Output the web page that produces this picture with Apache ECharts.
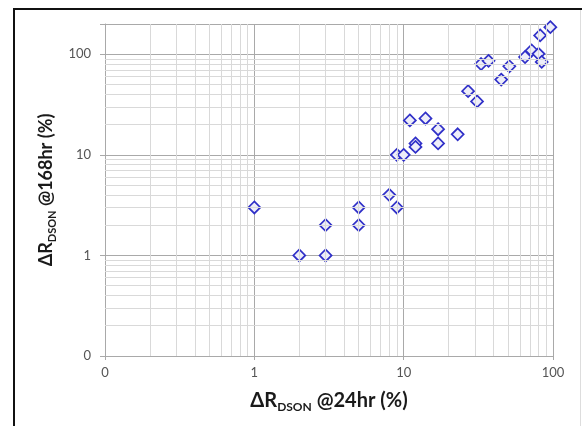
<!DOCTYPE html>
<html><head><meta charset="utf-8">
<script src="https://cdn.jsdelivr.net/npm/echarts@6/dist/echarts.min.js"></script>
<style>html,body{margin:0;padding:0;background:#fff}#c{width:582px;height:426px}</style>
</head><body><div id="c"></div>
<script>
// ---- data ----
const xValues24hr  = [1, 2, 3, 3, 5, 5, 8, 9, 9, 10, 11, 12, 12, 14, 17, 17, 23, 27, 31, 33, 37, 45, 51, 65, 72, 80, 84, 82, 96];
const yValues168hr = [3, 1, 2, 1, 3, 2, 4, 3, 10, 10, 22, 13, 12, 23, 18, 13, 16, 43, 34, 80, 86, 56, 76, 94, 109, 101, 84, 154, 186];
const xTickLabels = ['0', '1', '10', '100'];
const yTickLabels = ['0', '1', '10', '100'];

const points = xValues24hr.map((x, i) => [x, yValues168hr[i]]);

function decadeLabel(labels) {
  return function (v) {
    const e = Math.log10(v);
    const r = Math.round(e);
    if (Math.abs(e - r) > 1e-6) return '';
    return labels[r + 1] || '';
  };
}
function minorValues(decades, maxV) {
  const out = [];
  decades.forEach(d => { for (let k = 2; k <= 9; k++) { const v = +(d * k).toPrecision(6); if (v < maxV) out.push(v); } });
  return out;
}
const xMinor = minorValues([0.1, 1, 10], 100);
const yMinor = minorValues([0.1, 1, 10], 200);

const FONT = 'Lato, "Open Sans", "DejaVu Sans", sans-serif';
const MAJOR = '#a9a9a9', MINOR = '#d9d9d9';
const labelStyle = { fontFamily: FONT, fontSize: 13, color: '#555' };
function richFor(size, sub) {
  return {
    a: { fontFamily: FONT, fontSize: size, fontWeight: 'bold', color: '#1a1a1a', lineHeight: size + 4 },
    s: { fontFamily: FONT, fontSize: sub, fontWeight: 'bold', color: '#1a1a1a', lineHeight: sub, verticalAlign: 'bottom' }
  };
}

const chart = echarts.init(document.getElementById('c'), null, { renderer: 'canvas' });
chart.setOption({
  animation: false,
  backgroundColor: '#fff',
  grid: { left: 105, right: 29, top: 24, bottom: 70, containLabel: false, outerBoundsMode: 'none' },
  xAxis: {
    type: 'log', logBase: 10, min: 0.1, max: 100,
    axisLine: { show: true, lineStyle: { color: MAJOR, width: 1 } },
    axisTick: { show: true, length: 4, lineStyle: { color: MAJOR } },
    axisLabel: Object.assign({ margin: 10, formatter: decadeLabel(xTickLabels) }, labelStyle),
    splitLine: { show: true, lineStyle: { color: MAJOR, width: 1 } },
    name: '{a|ΔR}{s|DSON}{a| @24hr (%)}',
    nameLocation: 'middle', nameGap: 33,
    nameTextStyle: { rich: richFor(20, 12) }
  },
  yAxis: {
    type: 'log', logBase: 10, min: 0.1, max: 200,
    axisLine: { show: true, lineStyle: { color: MAJOR, width: 1 } },
    axisTick: { show: true, length: 5, lineStyle: { color: MAJOR } },
    axisLabel: Object.assign({ margin: 14, formatter: decadeLabel(yTickLabels) }, labelStyle),
    splitLine: { show: true, lineStyle: { color: MAJOR, width: 1 } },
    name: '{a|ΔR}{s|DSON}{a| @168hr (%)}',
    nameLocation: 'middle', nameGap: 43, nameRotate: 90,
    nameTextStyle: { rich: richFor(18, 11) }
  },
  series: [
    {
      type: 'scatter', data: [], z: 1, silent: true,
      markLine: {
        silent: true, animation: false, symbol: ['none', 'none'],
        label: { show: false },
        lineStyle: { color: MINOR, width: 1, type: 'solid' },
        emphasis: { disabled: true },
        data: xMinor.map(v => ({ xAxis: v })).concat(yMinor.map(v => ({ yAxis: v })))
      }
    },
    {
      type: 'scatter', data: points, z: 3,
      symbol: 'diamond', symbolSize: 12,
      itemStyle: { color: '#eeeef9', borderColor: '#3030c8', borderWidth: 1.7, opacity: 1 }
    }
  ],
  graphic: [
    { type: 'line', z: 100, shape: { x1: 14, y1: 8, x2: 14, y2: 426 }, style: { stroke: '#111', lineWidth: 2 } },
    { type: 'line', z: 100, shape: { x1: 13, y1: 9, x2: 582, y2: 9 }, style: { stroke: '#111', lineWidth: 2 } },
    { type: 'line', z: 100, shape: { x1: 580.5, y1: 10, x2: 580.5, y2: 426 }, style: { stroke: '#dddddd', lineWidth: 1 } }
  ]
});
</script>
</body></html>
